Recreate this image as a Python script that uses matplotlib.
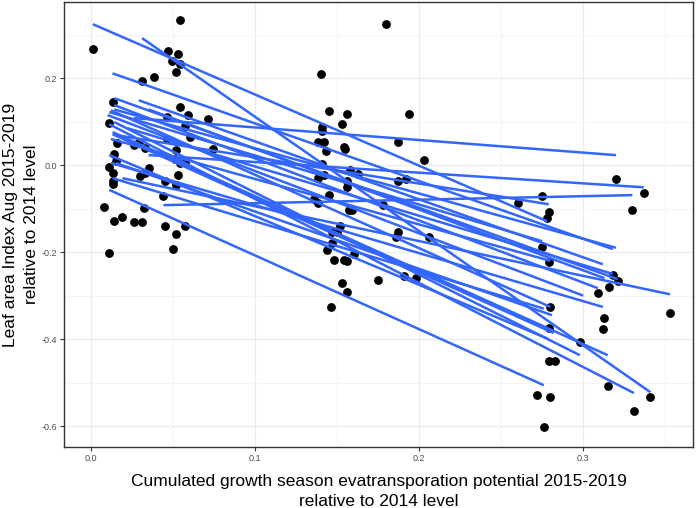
import matplotlib
matplotlib.use("Agg")
import matplotlib.pyplot as plt
from matplotlib.ticker import MultipleLocator

# scatter points
pt_x = [0.054, 0.001, 0.047, 0.053, 0.049, 0.054, 0.052, 0.031, 0.038, 0.013,
        0.054, 0.059, 0.046, 0.071, 0.011, 0.057, 0.060, 0.046, 0.016, 0.026,
        0.029, 0.033, 0.074, 0.052, 0.014, 0.015, 0.051, 0.054, 0.057, 0.011,
        0.035, 0.013, 0.033, 0.053, 0.030, 0.013, 0.013, 0.045, 0.052, 0.044,
        0.008, 0.032, 0.019, 0.014, 0.026, 0.031, 0.045, 0.057, 0.052, 0.050,
        0.011,
        0.180, 0.140, 0.145, 0.156, 0.194, 0.153, 0.141, 0.141, 0.138, 0.142,
        0.154, 0.155, 0.143, 0.187, 0.203, 0.141, 0.158, 0.163, 0.142, 0.138,
        0.156, 0.156, 0.187, 0.192, 0.136, 0.138, 0.145, 0.178, 0.157, 0.159,
        0.152, 0.147, 0.150, 0.147, 0.187, 0.186, 0.144, 0.148, 0.154, 0.156,
        0.160, 0.175, 0.191, 0.198, 0.206, 0.153, 0.156, 0.146,
        0.320, 0.337, 0.330, 0.275, 0.260, 0.279, 0.278, 0.275, 0.279, 0.318,
        0.321, 0.316, 0.309, 0.353, 0.280, 0.313, 0.312, 0.279, 0.298, 0.279,
        0.283, 0.315, 0.272, 0.280, 0.341, 0.331, 0.276]
pt_y = [0.333, 0.267, 0.262, 0.255, 0.239, 0.232, 0.214, 0.193, 0.202, 0.145,
        0.133, 0.115, 0.110, 0.106, 0.097, 0.090, 0.064, 0.060, 0.051, 0.046,
        0.053, 0.039, 0.037, 0.034, 0.025, 0.009, 0.014, 0.005, 0.007, -0.005,
        -0.007, -0.018, -0.018, -0.023, -0.025, -0.037, -0.044, -0.037, -0.046, -0.071,
        -0.097, -0.099, -0.120, -0.129, -0.131, -0.131, -0.140, -0.140, -0.159, -0.193,
        -0.202,
        0.324, 0.209, 0.124, 0.117, 0.117, 0.094, 0.087, 0.078, 0.053, 0.053,
        0.041, 0.037, 0.032, 0.053, 0.011, 0.002, -0.011, -0.021, -0.023, -0.030,
        -0.037, -0.051, -0.037, -0.032, -0.078, -0.087, -0.069, -0.092, -0.103, -0.103,
        -0.140, -0.154, -0.154, -0.179, -0.154, -0.166, -0.195, -0.218, -0.218, -0.221,
        -0.205, -0.264, -0.255, -0.260, -0.166, -0.271, -0.292, -0.326,
        -0.032, -0.064, -0.103, -0.071, -0.087, -0.108, -0.122, -0.189, -0.223, -0.253,
        -0.267, -0.280, -0.294, -0.340, -0.326, -0.352, -0.377, -0.375, -0.407, -0.451,
        -0.451, -0.508, -0.529, -0.533, -0.533, -0.566, -0.602]

# fitted lines (start and end of each group's regression line)
line_x0 = [0.001, 0.031, 0.013, 0.014, 0.014, 0.026, 0.035, 0.044, 0.015, 0.011,
           0.029, 0.019, 0.012, 0.012, 0.013, 0.011, 0.014, 0.013, 0.011, 0.011,
           0.014, 0.012, 0.035, 0.010, 0.015, 0.022, 0.013]
line_y0 = [0.324, 0.292, 0.211, 0.154, 0.138, 0.108, 0.023, -0.092, 0.069, 0.122,
           0.149, -0.030, 0.005, 0.126, 0.071, 0.023, 0.099, 0.076, -0.057, 0.094,
           0.128, 0.060, 0.128, 0.115, 0.005, 0.085, -0.030]
line_x1 = [0.278, 0.341, 0.318, 0.321, 0.309, 0.320, 0.337, 0.330, 0.279, 0.275,
           0.312, 0.353, 0.312, 0.280, 0.282, 0.279, 0.298, 0.315, 0.276, 0.331,
           0.320, 0.280, 0.313, 0.300, 0.281, 0.318, 0.276]
line_y1 = [-0.129, -0.522, -0.193, -0.262, -0.283, 0.023, -0.051, -0.069, -0.090, -0.175,
           -0.228, -0.297, -0.326, -0.326, -0.386, -0.400, -0.437, -0.437, -0.506, -0.524,
           -0.190, -0.220, -0.260, -0.300, -0.345, -0.250, -0.330]

x_ticks = [0.0, 0.1, 0.2, 0.3]
x_tick_labels = ["0.0", "0.1", "0.2", "0.3"]
y_ticks = [-0.6, -0.4, -0.2, 0.0, 0.2]
y_tick_labels = ["-0.6", "-0.4", "-0.2", "0.0", "0.2"]

plt.rcParams['font.family'] = ['Liberation Sans', 'DejaVu Sans']

W, H = 699, 508
fig = plt.figure(figsize=(W / 100, H / 100), dpi=100)
ax = fig.add_axes([64 / W, 1 - 447 / H, (693 - 64) / W, (447 - 2) / H])

ax.set_xlim(-0.0166, 0.367)
ax.set_ylim(-0.648, 0.375)
ax.set_xticks(x_ticks)
ax.set_xticklabels(x_tick_labels)
ax.set_yticks(y_ticks)
ax.set_yticklabels(y_tick_labels)
ax.xaxis.set_minor_locator(MultipleLocator(0.05))
ax.yaxis.set_minor_locator(MultipleLocator(0.1))

ax.set_axisbelow(True)
ax.grid(which='major', color='#EBEBEB', linewidth=0.9)
ax.grid(which='minor', color='#F2F2F2', linewidth=0.5)
for s in ax.spines.values():
    s.set_color('#333333')
    s.set_linewidth(1.0)
ax.tick_params(which='major', length=3, width=0.8, color='#333333',
               labelsize=6.5, labelcolor='#4D4D4D', pad=2)
ax.tick_params(which='minor', length=0)

ax.scatter(pt_x, pt_y, s=40, color='black', linewidths=0, zorder=2)
for x0, y0, x1, y1 in zip(line_x0, line_y0, line_x1, line_y1):
    ax.plot([x0, x1], [y0, y1], color='#3366FF', linewidth=1.8,
            solid_capstyle='butt', zorder=3)

ax.set_xlabel("Cumulated growth season evatransporation potential 2015-2019\nrelative to 2014 level",
              fontsize=12.5, linespacing=1.4, labelpad=8)
ax.set_ylabel("Leaf area Index Aug 2015-2019\nrelative to 2014 level",
              fontsize=12.5, linespacing=1.45, labelpad=2)

fig.savefig("out.png", dpi=100)
